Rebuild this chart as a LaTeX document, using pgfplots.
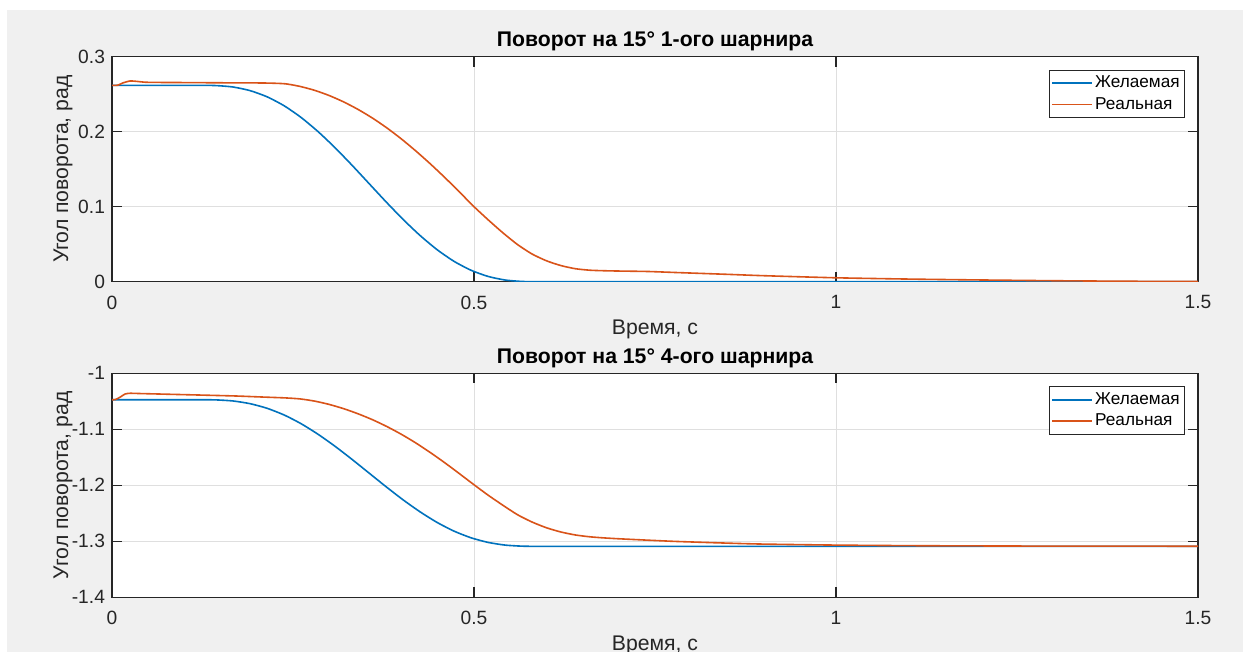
\documentclass[border=0pt]{standalone}
\usepackage{pgfplots}
\pgfplotsset{compat=1.18}
\usepackage{fontspec}
\setmainfont{Liberation Sans}
\definecolor{mblue}{RGB}{0,114,189}
\definecolor{morange}{RGB}{217,83,25}
\definecolor{figgray}{RGB}{240,240,240}
\definecolor{axgray}{RGB}{38,38,38}
\definecolor{gridgray}{RGB}{223,223,223}
\pgfplotsset{
  every axis title/.style={at={(0.5,1)}, anchor=base, yshift=5pt,
    font=\bfseries\fontsize{10.6}{12}\selectfont},
  mlab/.style={
    scale only axis,
    width=543pt,
    xmin=0, xmax=1.5,
    xtick={0,0.5,1,1.5},
    xticklabels={0,0.5,1,1.5},
    grid=major,
    major grid style={gridgray, line width=0.5pt},
    axis line style={axgray, line width=0.6pt},
    tick style={axgray, line width=0.6pt},
    tick align=inside,
    tick pos=both,
    major tick length=5pt,
    axis background/.style={fill=white},
    tick label style={font=\fontsize{9.6}{11}\selectfont, text=axgray},
    xticklabel style={yshift=-3.5pt},
    label style={font=\fontsize{10.6}{12}\selectfont, text=axgray},
    xlabel style={at={(axis description cs:0.5,-0.2133)}, anchor=center},
    ylabel style={at={(axis description cs:-0.0451,0.5)}, anchor=center, rotate=0},
    legend cell align=left,
    legend style={at={(1,1)}, anchor=north east, xshift=-6.7pt, yshift=-6.5pt,
      draw=axgray, line width=0.5pt, fill=white,
      font=\fontsize{8.6}{10}\selectfont,
      inner xsep=1.2pt, inner ysep=1.8pt, row sep=1.3pt,
      nodes={inner sep=1pt, text=black}},
    legend image code/.code={\draw[#1, line width=0.8pt] (0pt,0pt) -- (20pt,0pt);},
    every axis plot/.append style={line width=0.8pt, smooth, tension=0.4},
  }
}
\begin{document}
\begin{tikzpicture}
\fill[white] (0,0) rectangle (621.5pt,326pt);
\fill[figgray] (3.5pt,0) rectangle (621.5pt,321pt);

\begin{axis}[mlab,
  at={(56pt,185.15pt)}, anchor=south west,
  height=112.5pt,
  ymin=0, ymax=0.3,
  ytick={0,0.1,0.2,0.3},
  yticklabels={0,0.1,0.2,0.3},
  title={Поворот на 15° 1-ого шарнира},
  xlabel={Время, с},
  ylabel={Угол поворота, рад},
]
\addplot[mblue] coordinates {
(0,0.2618) (0.06,0.2618) (0.12,0.2618) (0.1435,0.2615) (0.167,0.2596) (0.1905,0.2548) (0.214,0.2466)
(0.2375,0.2347) (0.261,0.2191) (0.2845,0.2002) (0.308,0.1787) (0.3315,0.1553)
(0.355,0.1309) (0.3785,0.1065) (0.402,0.0831) (0.4255,0.0616) (0.449,0.0427)
(0.4725,0.0271) (0.496,0.0152) (0.5195,0.0070) (0.543,0.0022) (0.5665,0.0003)
(0.59,0) (0.7,0) (1.0,0) (1.5,0)
};
\addlegendentry{Желаемая}
\addplot[morange] coordinates {
(0,0.2618) (0.008,0.2620) (0.015,0.2650) (0.025,0.2676) (0.035,0.2670) (0.045,0.2660)
(0.06,0.2657) (0.1,0.2655) (0.15,0.2652) (0.2,0.2650) (0.22,0.2647) (0.24,0.2638)
(0.26,0.2603) (0.28,0.2551) (0.30,0.2482) (0.32,0.2397) (0.34,0.2296) (0.36,0.2180)
(0.38,0.2048) (0.40,0.1901) (0.42,0.1740) (0.44,0.1568) (0.46,0.1386) (0.48,0.1195)
(0.50,0.1000) (0.52,0.0821) (0.54,0.0651) (0.56,0.0496) (0.58,0.0370) (0.60,0.0279)
(0.62,0.0215) (0.64,0.0173) (0.66,0.0153) (0.68,0.0146) (0.70,0.0142) (0.74,0.0136)
(0.78,0.0122) (0.85,0.0098) (0.9,0.0080) (1.0,0.0052) (1.1,0.0035) (1.2,0.0023)
(1.3,0.0013) (1.4,0.0006) (1.5,0.0002)
};
\addlegendentry{Реальная}
\end{axis}

\begin{axis}[mlab,
  at={(56pt,27.35pt)}, anchor=south west,
  height=112pt,
  ymin=-1.4, ymax=-1,
  ytick={-1.4,-1.3,-1.2,-1.1,-1},
  yticklabels={-1.4,-1.3,-1.2,-1.1,-1},
  title={Поворот на 15° 4-ого шарнира},
  xlabel={Время, с},
  ylabel={Угол поворота, рад},
  xlabel style={at={(axis description cs:0.5,-0.2143)}},
]
\addplot[mblue] coordinates {
(0,-1.0472) (0.06,-1.0472) (0.12,-1.0472) (0.1435,-1.0475) (0.167,-1.0494) (0.1905,-1.0542) (0.214,-1.0624)
(0.2375,-1.0743) (0.261,-1.0899) (0.2845,-1.1088) (0.308,-1.1303) (0.3315,-1.1537)
(0.355,-1.1781) (0.3785,-1.2025) (0.402,-1.2259) (0.4255,-1.2474) (0.449,-1.2663)
(0.4725,-1.2819) (0.496,-1.2938) (0.5195,-1.3020) (0.543,-1.3068) (0.5665,-1.3087)
(0.59,-1.3090) (0.7,-1.3090) (1.0,-1.3090) (1.5,-1.3090)
};
\addlegendentry{Желаемая}
\addplot[morange] coordinates {
(0,-1.0472) (0.005,-1.0468) (0.012,-1.0420) (0.018,-1.0370) (0.025,-1.0357) (0.04,-1.0362)
(0.08,-1.0375) (0.12,-1.0388) (0.17,-1.0405) (0.21,-1.0425) (0.24,-1.0440) (0.26,-1.0458)
(0.28,-1.0497) (0.30,-1.0556) (0.32,-1.0632) (0.34,-1.0724) (0.36,-1.0830) (0.38,-1.0953)
(0.40,-1.1092) (0.42,-1.1247) (0.44,-1.1418) (0.46,-1.1601) (0.48,-1.1794) (0.50,-1.1990)
(0.52,-1.2181) (0.54,-1.2357) (0.56,-1.2525) (0.58,-1.2655) (0.60,-1.2758) (0.62,-1.2834)
(0.64,-1.2887) (0.66,-1.2920) (0.68,-1.2940) (0.70,-1.2955) (0.74,-1.2980) (0.78,-1.3003)
(0.85,-1.3033) (0.9,-1.3050) (1.0,-1.3068) (1.1,-1.3078) (1.2,-1.3083) (1.3,-1.3086) (1.5,-1.3088)
};
\addlegendentry{Реальная}
\end{axis}
\pgfresetboundingbox
\path[use as bounding box] (0,0) rectangle (621.5pt,326pt);
\end{tikzpicture}
\end{document}
